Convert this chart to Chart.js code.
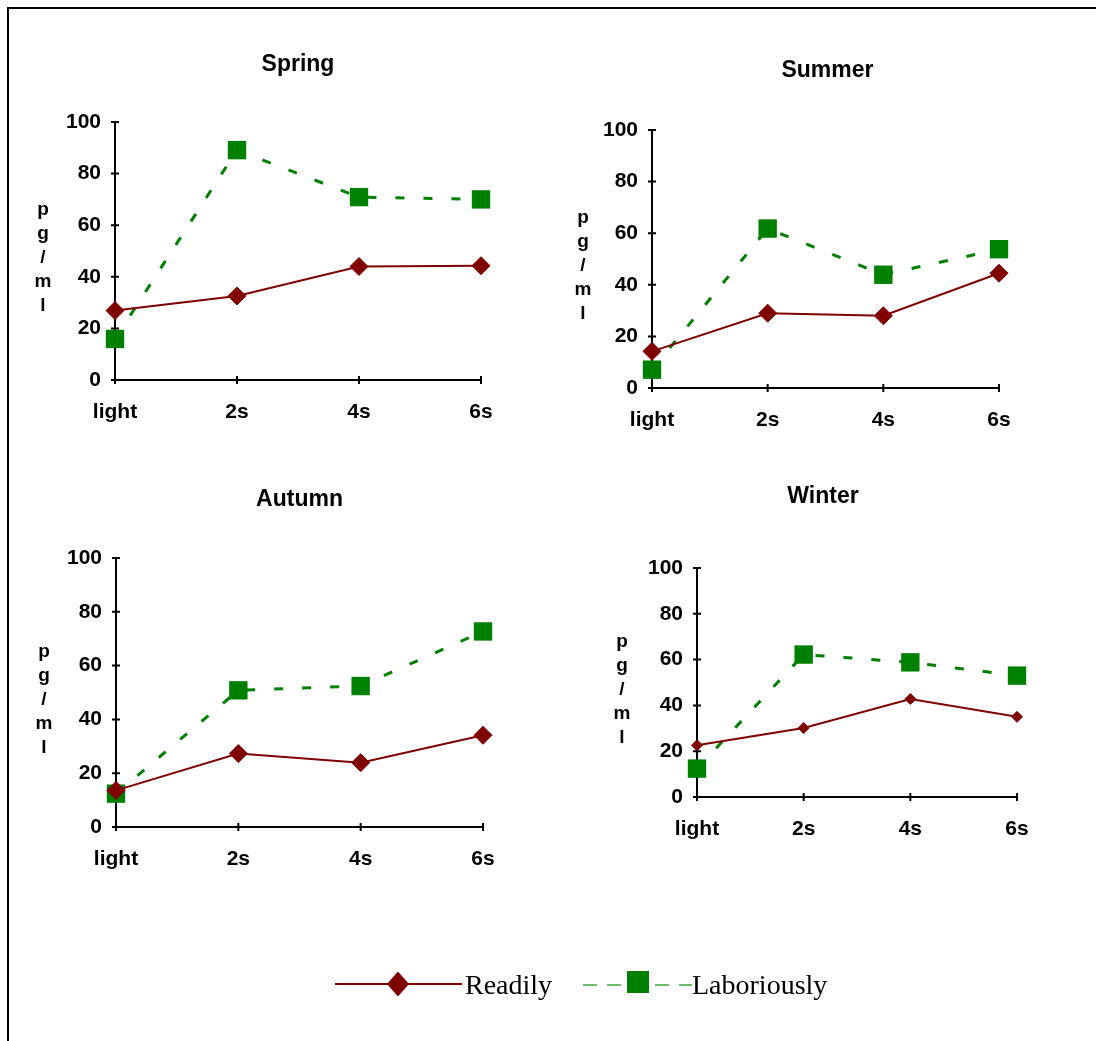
<!DOCTYPE html>
<html>
<head>
<meta charset="utf-8">
<script src="https://cdn.jsdelivr.net/npm/chart.js@4.4.1/dist/chart.umd.min.js"></script>
<style>
  html, body { margin: 0; padding: 0; background: #fff; }
  body { width: 1096px; height: 1041px; position: relative; overflow: hidden; }
  .frame { position: absolute; left: 7px; top: 7px; right: 0; bottom: 0; border-top: 2px solid #000; border-left: 2px solid #000; }
  canvas { position: absolute; }
</style>
</head>
<body>
<div class="frame"></div>
<canvas id="spring" width="540" height="440" style="left:10px;top:10px"></canvas>
<canvas id="summer" width="540" height="440" style="left:550px;top:10px"></canvas>
<canvas id="autumn" width="540" height="440" style="left:10px;top:450px"></canvas>
<canvas id="winter" width="540" height="440" style="left:550px;top:450px"></canvas>
<canvas id="legend" width="1096" height="70" style="left:0;top:950px"></canvas>

<script>
// ---- data (pg/ml) ----
const times = ['light', '2s', '4s', '6s']
const unitLetters = ['p', 'g', '/', 'm', 'l']
const yMax = 100
const yStep = 20

const springReadily    = [26.9, 32.6, 44.0, 44.3]
const springLaborious  = [15.9, 89.1, 70.9, 70.0]
const summerReadily    = [14.2, 29.0, 28.0, 44.5]
const summerLaborious  = [7.1, 61.8, 43.9, 53.8]
const autumnReadily    = [13.6, 27.3, 23.9, 34.1]
const autumnLaborious  = [12.4, 50.8, 52.4, 72.7]
const winterReadily    = [22.6, 30.1, 42.8, 35.0]
const winterLaborious  = [12.4, 62.2, 58.8, 53.0]

// ---- styling ----
const C = { red: '#800000', green: '#008000', legendGreen: '#3aa53a', ink: '#000' }
const SANS = '"Liberation Sans", Arial, sans-serif'
const SERIF = '"Liberation Serif", "Times New Roman", serif'
const Y_AXIS_W = 60
const X_AXIS_H = 50

// titles, tick crosses and the stacked p/g/ml unit label
const panelDecor = {
  id: 'panelDecor',
  beforeDatasetsDraw(chart) {
    const { ctx, chartArea: a, scales: { x, y } } = chart
    ctx.save()
    ctx.strokeStyle = C.ink
    ctx.lineWidth = 2
    ctx.beginPath()
    y.ticks.forEach((t, i) => {
      const py = y.getPixelForTick(i)
      ctx.moveTo(a.left - 4, py); ctx.lineTo(a.left + 4, py)
    })
    x.ticks.forEach((t, i) => {
      const px = x.getPixelForTick(i)
      ctx.moveTo(px, a.bottom - 4); ctx.lineTo(px, a.bottom + 4)
    })
    ctx.stroke()
    ctx.restore()
  },
  afterDraw(chart, args, opts) {
    const { ctx, chartArea: a } = chart
    ctx.save()
    ctx.fillStyle = C.ink
    ctx.textAlign = 'center'
    ctx.textBaseline = 'alphabetic'
    ctx.font = 'bold 23px ' + SANS
    ctx.fillText(opts.title, (a.left + a.right) / 2 + opts.titleDx, a.top - opts.titleRise)
    ctx.font = 'bold 19px ' + SANS
    const mid = (a.top + a.bottom) / 2
    unitLetters.forEach((ch, i) => {
      ctx.fillText(ch, a.left - opts.unitGap, mid + 12 + (i - 2) * 24)
    })
    ctx.restore()
  }
}
Chart.register(panelDecor)

function makePanel(id, box, area, title, readily, laborious, look) {
  const tickFont = { family: SANS, size: 21, weight: 'bold' }
  return new Chart(document.getElementById(id), {
    type: 'line',
    data: {
      labels: times,
      datasets: [
        {
          label: 'Readily', data: readily,
          borderColor: C.red, backgroundColor: C.red, borderWidth: 2,
          pointStyle: 'rectRot', pointRadius: look.diamond, pointBorderWidth: 1,
          tension: 0, clip: false
        },
        {
          label: 'Laboriously', data: laborious,
          borderColor: C.green, backgroundColor: C.green, borderWidth: 3, borderDash: [9, 19],
          pointStyle: 'rect', pointRadius: 13, pointBorderWidth: 0,
          tension: 0, clip: false
        }
      ]
    },
    options: {
      responsive: false, animation: false, devicePixelRatio: 1,
      events: [],
      layout: {
        padding: {
          left: area.l - box.l - Y_AXIS_W,
          right: box.l + box.w - area.r,
          top: area.t - box.t,
          bottom: box.t + box.h - area.b - X_AXIS_H
        }
      },
      plugins: {
        legend: { display: false },
        tooltip: { enabled: false },
        panelDecor: { title, titleDx: look.titleDx, titleRise: look.titleRise, unitGap: look.unitGap }
      },
      scales: {
        x: {
          offset: false,
          grid: { display: false, drawTicks: false },
          border: { display: true, color: C.ink, width: 2 },
          ticks: { color: C.ink, font: tickFont, padding: 20, maxRotation: 0, autoSkip: false },
          afterFit: s => { s.height = X_AXIS_H }
        },
        y: {
          min: 0, max: yMax,
          grid: { display: false, drawTicks: false },
          border: { display: true, color: C.ink, width: 2 },
          ticks: { stepSize: yStep, color: C.ink, font: tickFont, padding: 14 },
          afterFit: s => { s.width = Y_AXIS_W }
        }
      }
    }
  })
}

makePanel('spring', { l: 10, t: 10, w: 540, h: 440 }, { l: 115, t: 122, r: 481, b: 380 },
  'Spring', springReadily, springLaborious, { diamond: 9, titleDx: 0, titleRise: 51, unitGap: 72 })
makePanel('summer', { l: 550, t: 10, w: 540, h: 440 }, { l: 652, t: 130, r: 999, b: 388 },
  'Summer', summerReadily, summerLaborious, { diamond: 9, titleDx: 2, titleRise: 53, unitGap: 69 })
makePanel('autumn', { l: 10, t: 450, w: 540, h: 440 }, { l: 116, t: 558, r: 483, b: 827 },
  'Autumn', autumnReadily, autumnLaborious, { diamond: 9, titleDx: 0, titleRise: 52, unitGap: 72 })
makePanel('winter', { l: 550, t: 450, w: 540, h: 440 }, { l: 697, t: 568, r: 1017, b: 797 },
  'Winter', winterReadily, winterLaborious, { diamond: 5.5, titleDx: -34, titleRise: 65, unitGap: 75 })

// shared legend under the four panels
function drawLegend() {
  const ctx = document.getElementById('legend').getContext('2d')
  const y = 34
  ctx.fillStyle = C.ink
  ctx.font = '28px ' + SERIF
  ctx.textBaseline = 'alphabetic'

  // Readily: solid line with a diamond
  ctx.strokeStyle = C.red
  ctx.lineWidth = 2
  ctx.beginPath(); ctx.moveTo(335, y); ctx.lineTo(462, y); ctx.stroke()
  ctx.fillStyle = C.red
  ctx.beginPath()
  ctx.moveTo(398, y - 12.5); ctx.lineTo(409, y); ctx.lineTo(398, y + 12.5); ctx.lineTo(387, y)
  ctx.closePath(); ctx.fill()
  ctx.fillStyle = C.ink
  ctx.fillText('Readily', 465, y + 10)

  // Laboriously: dashed line with a square
  ctx.strokeStyle = C.legendGreen
  ctx.lineWidth = 1.5
  ctx.setLineDash([14, 10])
  ctx.beginPath(); ctx.moveTo(583, y + 1); ctx.lineTo(692, y + 1); ctx.stroke()
  ctx.setLineDash([])
  ctx.fillStyle = C.green
  ctx.fillRect(627, y - 13, 22, 22)
  ctx.fillStyle = C.ink
  ctx.fillText('Laboriously', 692, y + 10)
}
drawLegend()
</script>
</body>
</html>
